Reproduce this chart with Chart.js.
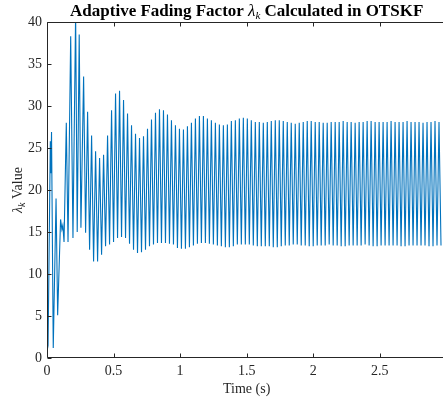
<!DOCTYPE html>
<html>
<head>
<meta charset="utf-8">
<script src="https://cdn.jsdelivr.net/npm/chart.js@4.4.1/dist/chart.umd.min.js"></script>
<style>
  body { margin: 0; background: #fff; }
  #wrap { width: 443px; height: 402px; }
</style>
</head>
<body>
<div id="wrap"><canvas id="fadingChart"></canvas></div>
<script>
// start-up transient (s, value)
const startTimes  = [0, 0.008, 0.025, 0.029, 0.034, 0.047, 0.068, 0.080, 0.102, 0.112, 0.119,
                     0.128, 0.145, 0.158, 0.178, 0.195, 0.215, 0.227, 0.242, 0.255, 0.275, 0.290];
const startValues = [0.8, 1.5, 25.8, 22.0, 26.9, 1.2, 19.0, 5.1, 16.5, 15.3, 15.8,
                     13.8, 28.0, 13.8, 38.3, 14.3, 41.0, 15.0, 38.5, 15.5, 33.5, 14.9];

// oscillation after the transient: one peak and one trough per cycle
const cycleStart = 0.305;
const cyclePeriod = 0.030;
const peaks = [29.3, 26.5, 24.6, 23.8, 24.2, 26.5, 29.5, 31.5, 31.8, 30.7, 29.1,
               27.7, 26.7, 26.2, 26.4, 27.3, 28.4, 29.2, 29.6, 29.5, 29.0,
               28.3, 27.7, 27.3, 27.2, 27.6, 28.0, 28.5, 28.8, 28.8, 28.5, 28.3,
               28.0, 27.8, 27.7, 27.8, 28.2, 28.3, 28.5, 28.6, 28.5, 28.3, 28.1, 28.1, 28.0,
               28.1, 28.2, 28.3, 28.3, 28.2, 28.1, 28.0, 27.9, 28.0, 28.1,
               28.2, 28.2, 28.1, 28.1, 28.0, 28.0, 28.1, 28.1, 28.1, 28.2,
               28.1, 28.1, 28.0, 28.1, 28.1, 28.2, 28.2, 28.1, 28.1, 28.1,
               28.1, 28.2, 28.1, 28.1, 28.1, 28.2, 28.1, 28.1, 28.1, 28.0,
               28.1, 28.1, 28.2, 28.1];
const troughs = [12.9, 11.5, 11.5, 12.3, 13.3, 13.5, 13.8, 14.3, 14.4, 14.3, 13.6,
                 12.9, 12.5, 12.6, 12.9, 13.3, 13.5, 13.7, 13.7, 13.7, 13.6,
                 13.5, 13.1, 13.0, 13.0, 13.2, 13.4, 13.6, 13.7, 13.7, 13.6, 13.5,
                 13.4, 13.3, 13.2, 13.2, 13.3, 13.5, 13.5, 13.5, 13.5, 13.4, 13.3, 13.3, 13.3,
                 13.3, 13.2, 13.2, 13.3, 13.4, 13.4, 13.5, 13.5, 13.4, 13.4,
                 13.3, 13.3, 13.4, 13.4, 13.4, 13.5, 13.4, 13.4, 13.3, 13.3,
                 13.4, 13.4, 13.4, 13.4, 13.5, 13.4, 13.3, 13.3, 13.4, 13.4,
                 13.4, 13.4, 13.4, 13.3, 13.3, 13.4, 13.4, 13.4, 13.4, 13.4,
                 13.3, 13.3, 13.4, 13.4];

const xTicks = [0, 0.5, 1, 1.5, 2, 2.5];
const yTicks = [0, 5, 10, 15, 20, 25, 30, 35, 40];

const points = startTimes.map((t, i) => ({ x: t, y: startValues[i] }));
peaks.forEach((p, k) => {
    points.push({ x: cycleStart + k * cyclePeriod, y: p });
    points.push({ x: cycleStart + (k + 0.5) * cyclePeriod, y: troughs[k] });
});

const SERIF = "'Liberation Serif', 'Times New Roman', serif";
const AXIS = '#262626';

function partsWidth(ctx, parts) {
    let w = 0;
    parts.forEach(p => { ctx.font = p.font; w += ctx.measureText(p.text).width; });
    return w;
}
function fillParts(ctx, parts, x0, y0) {
    let x = x0;
    parts.forEach(p => {
        ctx.font = p.font;
        ctx.fillText(p.text, x, y0 + (p.dy || 0));
        x += ctx.measureText(p.text).width;
    });
}

const matlabFrame = {
    id: 'matlabFrame',
    afterDraw(chart) {
        const { ctx, chartArea: a, scales: { x, y } } = chart;
        const L = Math.round(a.left) + 0.5, T = Math.round(a.top) + 0.5, B = Math.round(a.bottom) - 0.5;
        ctx.save();
        ctx.strokeStyle = AXIS;
        ctx.lineWidth = 1;
        ctx.beginPath();
        ctx.moveTo(a.right, T); ctx.lineTo(L, T); ctx.lineTo(L, B); ctx.lineTo(a.right, B);
        xTicks.forEach(v => {
            const px = Math.round(x.getPixelForValue(v)) + 0.5;
            ctx.moveTo(px, B); ctx.lineTo(px, B - 4);
            ctx.moveTo(px, T); ctx.lineTo(px, T + 4);
        });
        yTicks.forEach(v => {
            const py = Math.round(y.getPixelForValue(v)) + 0.5;
            ctx.moveTo(L, py); ctx.lineTo(L + 4, py);
        });
        ctx.stroke();

        const mid = x.getPixelForValue(1.5);
        ctx.fillStyle = '#000';
        ctx.textBaseline = 'alphabetic';
        ctx.textAlign = 'left';

        // title
        const title = [
            { text: 'Adaptive Fading Factor ', font: 'bold 17px ' + SERIF },
            { text: 'λ', font: 'italic 17px ' + SERIF },
            { text: 'k', font: 'italic 11px ' + SERIF, dy: 3 },
            { text: ' Calculated in OTSKF', font: 'bold 17px ' + SERIF }
        ];
        fillParts(ctx, title, mid - partsWidth(ctx, title) / 2, 16);

        // x label
        ctx.fillStyle = AXIS;
        ctx.font = '14px ' + SERIF;
        ctx.textAlign = 'center';
        ctx.fillText('Time (s)', mid, 393);

        // y label
        const ylab = [
            { text: 'λ', font: 'italic 14px ' + SERIF },
            { text: 'k', font: 'italic 10px ' + SERIF, dy: 3 },
            { text: ' Value', font: '14px ' + SERIF }
        ];
        ctx.textAlign = 'left';
        ctx.translate(22, (a.top + a.bottom) / 2);
        ctx.rotate(-Math.PI / 2);
        fillParts(ctx, ylab, -partsWidth(ctx, ylab) / 2, 0);
        ctx.restore();
    }
};

new Chart(document.getElementById('fadingChart'), {
    type: 'line',
    data: {
        datasets: [{
            data: points,
            borderColor: '#0072BD',
            borderWidth: 1.1,
            pointRadius: 0,
            tension: 0,
            fill: false
        }]
    },
    options: {
        responsive: true,
        maintainAspectRatio: false,
        animation: false,
        events: [],
        layout: { padding: { top: 22, left: 0, right: 0, bottom: 0 }, autoPadding: false },
        plugins: { legend: { display: false }, tooltip: { enabled: false } },
        scales: {
            x: {
                type: 'linear',
                min: 0,
                max: 2.975,
                afterBuildTicks: s => { s.ticks = xTicks.map(v => ({ value: v })); },
                afterFit: s => { s.height = 44; },
                grid: { display: false, drawTicks: false },
                border: { display: false },
                ticks: { color: AXIS, padding: 5, maxRotation: 0, callback: v => String(v),
                         font: { family: SERIF, size: 14 } }
            },
            y: {
                min: 0,
                max: 40,
                afterBuildTicks: s => { s.ticks = yTicks.map(v => ({ value: v })); },
                afterFit: s => { s.width = 47; },
                grid: { display: false, drawTicks: false },
                border: { display: false },
                ticks: { color: AXIS, padding: 5, callback: v => String(v),
                         font: { family: SERIF, size: 14 } }
            }
        }
    },
    plugins: [matlabFrame]
});
</script>
</body>
</html>
